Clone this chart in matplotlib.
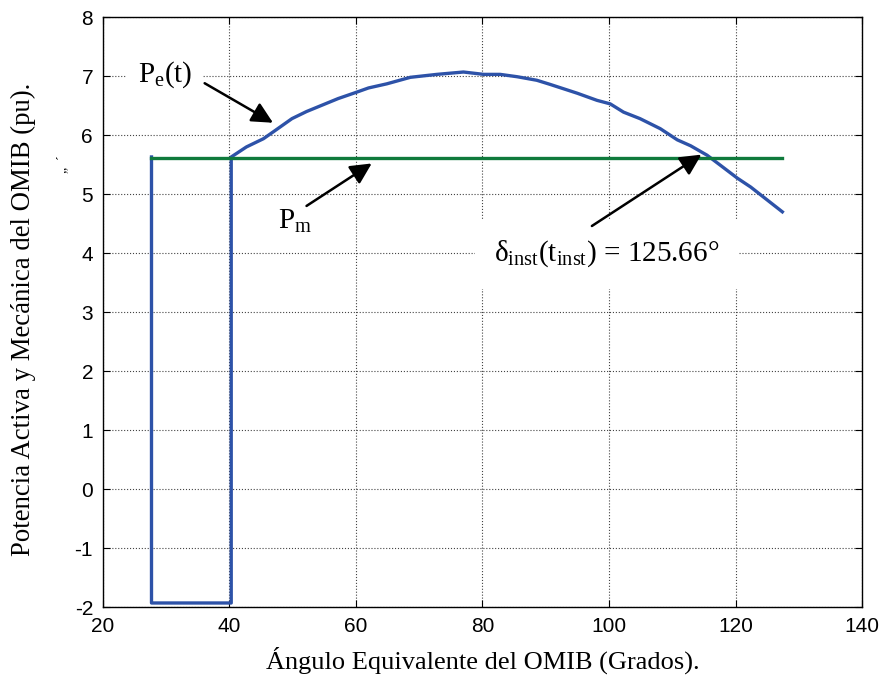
import numpy as np
import matplotlib
matplotlib.use("Agg")
import matplotlib.pyplot as plt

plt.rcParams["mathtext.fontset"] = "custom"
plt.rcParams["mathtext.rm"] = "Liberation Serif"
plt.rcParams["mathtext.it"] = "Liberation Serif:italic"
plt.rcParams["axes.unicode_minus"] = False

# Pe(t) curve: angle (deg) vs electrical power (pu)
delta = [27.7, 27.7, 40.3, 40.3, 42.7, 45.4, 47.0, 49.9, 52.2, 57.2, 59.9, 62.0,
         64.9, 68.6, 72.8, 77.0, 80.2, 82.8, 85.5, 88.6, 90.7, 95.0, 98.1,
         100.2, 102.3, 104.9, 108.1, 110.8, 112.9, 115.5, 117.6, 120.3,
         122.4, 127.4]
pe = [5.63, -1.93, -1.93, 5.63, 5.80, 5.94, 6.06, 6.28, 6.40, 6.62, 6.72, 6.80,
      6.87, 6.98, 7.03, 7.07, 7.03, 7.03, 6.99, 6.93, 6.86, 6.71, 6.59,
      6.53, 6.39, 6.28, 6.11, 5.92, 5.82, 5.66, 5.49, 5.27,
      5.12, 4.70]

# mechanical power, constant
pm_x = [27.7, 127.4]
pm_y = [5.62, 5.62]

serif = ["Liberation Serif", "DejaVu Serif"]
sans = ["Liberation Sans", "DejaVu Sans"]

fig = plt.figure(figsize=(8.86, 6.86), dpi=100)
ax = fig.add_axes([0.116, 0.115, 0.857, 0.86])

ax.plot(delta, pe, color="#2d52a8", lw=2.4, zorder=3)
ax.plot(pm_x, pm_y, color="#0f7a3c", lw=2.4, zorder=3)

ax.set_xlim(20, 140)
ax.set_ylim(-2, 8)
ax.set_xticks(np.arange(20, 141, 20))
ax.set_yticks(np.arange(-2, 9, 1))
ax.grid(True, color="#444444", linestyle=":", linewidth=0.8)
ax.tick_params(direction="in", top=True, right=True, labelsize=15, length=5, pad=7)
for lab in ax.get_xticklabels() + ax.get_yticklabels():
    lab.set_family(sans)
for s in ax.spines.values():
    s.set_linewidth(1.0)

ax.set_xlabel("Ángulo Equivalente del OMIB (Grados).", fontsize=19,
              family=serif, labelpad=8)
ax.set_ylabel("Potencia Activa y Mecánica del OMIB (pu).", fontsize=19.3,
              family=serif)
ax.yaxis.set_label_coords(-0.088, 0.488)

box = dict(facecolor="white", edgecolor="none", pad=8)
arr = dict(arrowstyle="-|>", color="black", lw=1.8, mutation_scale=32,
           shrinkA=0, shrinkB=0)

# label texts
ax.text(29.8, 7.02, r"P$_\mathrm{e}$(t)", fontsize=21, family=serif,
        ha="center", va="center", bbox=box, zorder=4)
ax.text(50.4, 4.53, r"P$_\mathrm{m}$", fontsize=21, family=serif,
        ha="center", va="center", bbox=box, zorder=4)
ax.text(99.7, 3.99, r"δ$_\mathrm{inst}$(t$_\mathrm{inst}$) = 125.66°", fontsize=21,
        family=serif, ha="center", va="center",
        bbox=dict(facecolor="white", edgecolor="none", pad=14), zorder=4)

# arrows
ax.annotate("", xy=(46.9, 6.21), xytext=(36.1, 6.88), arrowprops=arr, zorder=5)
ax.annotate("", xy=(62.5, 5.52), xytext=(52.2, 4.80), arrowprops=arr, zorder=5)
ax.annotate("", xy=(114.6, 5.67), xytext=(97.3, 4.46), arrowprops=arr, zorder=5)

fig.text(0.071, 0.76, "„  ´", rotation=90, fontsize=10, family=serif,
         ha="center", va="center")

fig.savefig("out.png", dpi=100)
